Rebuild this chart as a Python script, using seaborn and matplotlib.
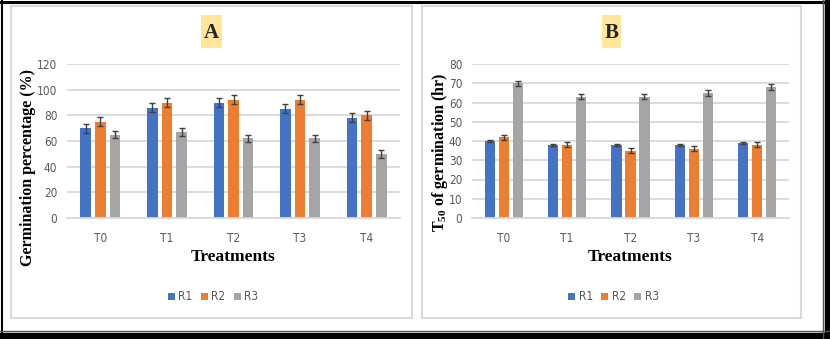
import numpy as np
import pandas as pd
import matplotlib
matplotlib.use("Agg")
import matplotlib.pyplot as plt
import seaborn as sns
from matplotlib.patches import Rectangle
from matplotlib.lines import Line2D

# ---------------- data ----------------
treatments = ["T0", "T1", "T2", "T3", "T4"]
series = ["R1", "R2", "R3"]

germ_r1 = [70, 86, 90, 85, 78]
germ_r2 = [75, 90, 92, 92, 80]
germ_r3 = [65, 67, 62, 62, 50]
germ_err_r1 = [3.5, 3.5, 3.5, 3.5, 3.5]
germ_err_r2 = [3.5, 3.5, 3.5, 3.5, 3.5]
germ_err_r3 = [3.0, 3.0, 3.0, 3.0, 3.0]

t50_r1 = [40, 38, 38, 38, 39]
t50_r2 = [42, 38, 35, 36, 38]
t50_r3 = [70, 63, 63, 65, 68]
t50_err_r1 = [0.5, 0.5, 0.5, 0.5, 0.5]
t50_err_r2 = [1.3, 1.3, 1.3, 1.3, 1.3]
t50_err_r3 = [1.4, 1.4, 1.4, 1.4, 1.4]

germ_yticks = [0, 20, 40, 60, 80, 100, 120]
t50_yticks = [0, 10, 20, 30, 40, 50, 60, 70, 80]

colors = ["#4472C4", "#ED7D31", "#A5A5A5"]

# ---------------- style ----------------
sns.set_theme(style="white")
plt.rcParams["font.family"] = ["DejaVu Sans"]
plt.rcParams["font.stretch"] = "condensed"
plt.rcParams["mathtext.fontset"] = "custom"
plt.rcParams["mathtext.rm"] = "Liberation Serif"
plt.rcParams["mathtext.bf"] = "Liberation Serif:bold"
serif = ["Liberation Serif", "DejaVu Serif"]
TICK_C = "#595959"
GRID_C = "#D9D9D9"

W, H = 830, 339
fig = plt.figure(figsize=(W / 100, H / 100), dpi=100)


def fx(px):
    return px / W


def fy(py):
    return 1 - py / H


def make_df(r1, r2, r3):
    rows = []
    for s, vals in zip(series, [r1, r2, r3]):
        for t, v in zip(treatments, vals):
            rows.append({"Treatment": t, "Series": s, "Value": v})
    return pd.DataFrame(rows)


def draw_panel(rect, r1, r2, r3, errs, ymax, yticks, ylabel, ylabel_xy, title, title_box, legend_xy):
    ax = fig.add_axes(rect)
    df = make_df(r1, r2, r3)
    sns.barplot(data=df, x="Treatment", y="Value", hue="Series", order=treatments,
                hue_order=series, palette=colors, width=0.66, gap=0.27,
                errorbar=None, ax=ax, linewidth=0, saturation=1)
    for cont, err in zip(ax.containers, errs):
        xs = [p.get_x() + p.get_width() / 2 for p in cont.patches]
        hs = [p.get_height() for p in cont.patches]
        ax.errorbar(xs, hs, yerr=err, fmt="none", ecolor="#404040",
                    elinewidth=1.0, capsize=2.5, capthick=1.0, zorder=5)
    ax.set_ylim(0, ymax)
    ax.set_xlim(-0.5, 4.5)
    ax.set_yticks(yticks)
    ax.yaxis.grid(True, color=GRID_C, linewidth=1.3)
    ax.set_axisbelow(True)
    for s in ["top", "right", "left"]:
        ax.spines[s].set_visible(False)
    ax.spines["bottom"].set_color(GRID_C)
    ax.spines["bottom"].set_linewidth(1.3)
    ax.tick_params(axis="both", length=0, colors=TICK_C, labelsize=8.5)
    ax.tick_params(axis="y", pad=7)
    ax.tick_params(axis="x", pad=10)
    ax.set_xlabel("Treatments", family=serif, fontweight="bold", fontsize=12.5,
                  color="black", fontstretch="normal")
    ax.xaxis.set_label_coords(0.5, -0.253)
    ax.xaxis.label.set_va("center")
    ax.set_ylabel(ylabel, family=serif, fontweight="bold", fontsize=11.5,
                  color="black", fontstretch="normal")
    ax.yaxis.set_label_coords(*ylabel_xy)
    ax.yaxis.label.set_va("center")
    handles, labels = ax.get_legend_handles_labels()
    ax.get_legend().remove()
    fig.legend(handles, labels, loc="center", bbox_to_anchor=legend_xy, ncol=3,
               frameon=False, handlelength=0.6, handleheight=0.6, handletextpad=0.3,
               columnspacing=0.7, fontsize=8.5, labelcolor=TICK_C)
    x0, x1, y0, y1 = title_box
    fig.add_artist(Rectangle((fx(x0), fy(y1)), fx(x1 - x0), (y1 - y0) / H,
                             transform=fig.transFigure, facecolor="#FFE699",
                             edgecolor="none"))
    fig.text(fx((x0 + x1) / 2), fy((y0 + y1) / 2 + 1), title, family=serif,
             fontweight="bold", fontsize=15, ha="center", va="center",
             fontstretch="normal")
    return ax


# Panel A
draw_panel([fx(67), fy(218), fx(400 - 67), (218 - 64) / H],
           germ_r1, germ_r2, germ_r3, [germ_err_r1, germ_err_r2, germ_err_r3],
           120, germ_yticks, "Germination percentage (%)", (-0.118, 0.33),
           "A", (201, 222, 15, 48), (fx(213), fy(297)))

# Panel B
draw_panel([fx(472), fy(218), fx(789 - 472), (218 - 64) / H],
           t50_r1, t50_r2, t50_r3, [t50_err_r1, t50_err_r2, t50_err_r3],
           80, t50_yticks, r"T$_{\mathbf{50}}$ of germination (hr)", (-0.102, 0.425),
           "B", (602, 621, 15, 48), (fx(613.5), fy(297)))

# panel frames (light gray)
for x0, x1 in [(11, 412), (422, 801)]:
    fig.add_artist(Rectangle((fx(x0), fy(317.5)), fx(x1 - x0), (317.5 - 5.5) / H,
                             transform=fig.transFigure, fill=False,
                             edgecolor="#D9D9D9", linewidth=1.5))

# outer black frame
fig.add_artist(Line2D([0, 1], [fy(1.5), fy(1.5)], transform=fig.transFigure, color="black", linewidth=2.2))
fig.add_artist(Line2D([fx(1.5), fx(1.5)], [0, 1], transform=fig.transFigure, color="black", linewidth=1.5))
fig.add_artist(Line2D([0, 1], [fy(331), fy(331)], transform=fig.transFigure, color="#555555", linewidth=1.0))
fig.add_artist(Rectangle((0, 0), 1, fy(333), transform=fig.transFigure, color="black"))
fig.add_artist(Rectangle((fx(825), 0), fx(5), 1, transform=fig.transFigure, color="black"))
fig.add_artist(Line2D([fx(823), fx(823)], [0, 1], transform=fig.transFigure, color="#555555", linewidth=1.0))

fig.savefig("out.png", dpi=100)
